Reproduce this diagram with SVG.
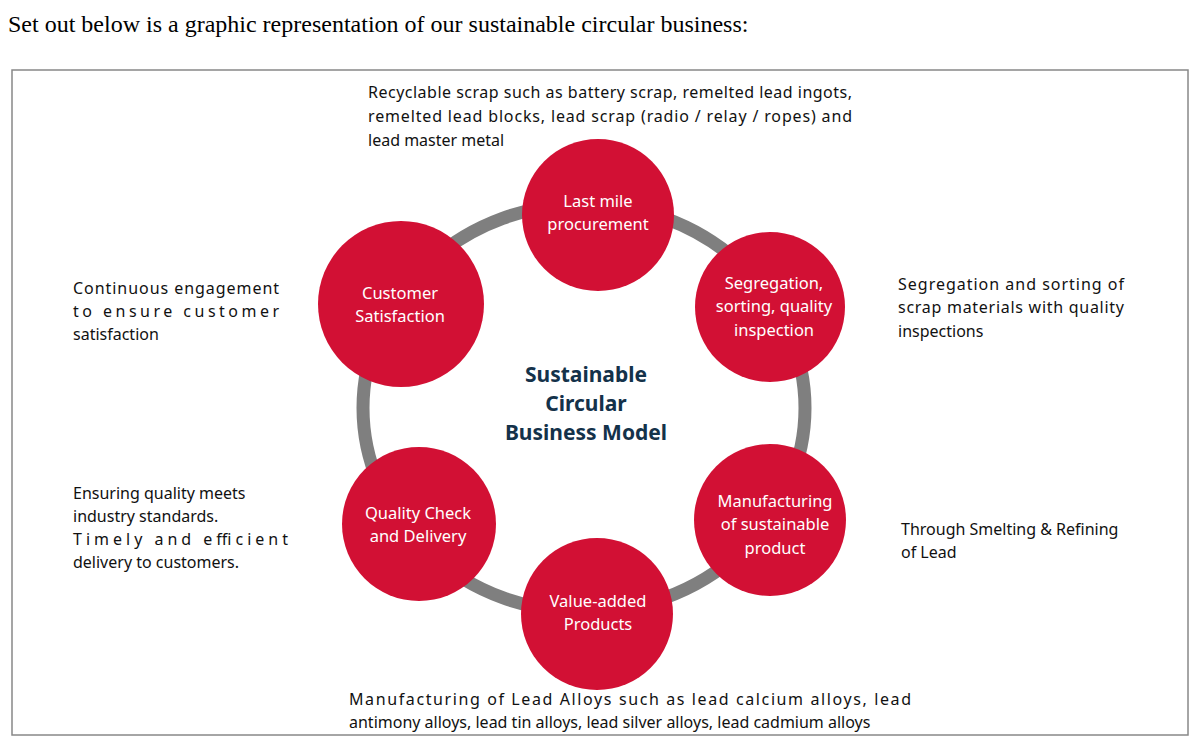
<svg xmlns="http://www.w3.org/2000/svg" width="1200" height="752" viewBox="0 0 1200 752">
<style>
.c{fill:#d21034}
.ct{font-family:"Noto Sans","Liberation Sans",sans-serif;font-size:16.5px;fill:#fff;text-anchor:middle}
.d{font-family:"Noto Sans","Liberation Sans",sans-serif;font-size:16px;fill:#111}
.h{font-family:"Noto Sans","Liberation Sans",sans-serif;font-size:21px;font-weight:bold;fill:#14324a;text-anchor:middle}
</style>
<rect width="1200" height="752" fill="#fff"/>
<text x="8" y="32" font-family="Liberation Serif,serif" font-size="24" fill="#000">Set out below is a graphic representation of our sustainable circular business:</text>
<rect x="12" y="70" width="1176" height="665" fill="none" stroke="#888" stroke-width="1.5"/>
<g id="connectors"><ellipse cx="584" cy="408" rx="221" ry="204" fill="none" stroke="#7f7f7f" stroke-width="13"/></g>
<g id="center"><text class="h" x="586" y="382">Sustainable</text><text class="h" x="586" y="411">Circular</text><text class="h" x="586" y="440">Business Model</text></g>
<g id="n1"><circle class="c" cx="598" cy="215" r="76"/><text class="ct" x="598" y="207">Last mile</text><text class="ct" x="598" y="230">procurement</text></g>
<g id="n2"><circle class="c" cx="770" cy="307" r="75"/><text class="ct" x="774" y="289">Segregation,</text><text class="ct" x="774" y="312">sorting, quality</text><text class="ct" x="774" y="336">inspection</text></g>
<g id="n3"><circle class="c" cx="770" cy="520" r="76"/><text class="ct" x="775" y="507">Manufacturing</text><text class="ct" x="775" y="530">of sustainable</text><text class="ct" x="775" y="554">product</text></g>
<g id="n4"><circle class="c" cx="597" cy="614" r="76"/><text class="ct" x="598" y="607">Value-added</text><text class="ct" x="598" y="630">Products</text></g>
<g id="n5"><circle class="c" cx="419" cy="524" r="77"/><text class="ct" x="418" y="519">Quality Check</text><text class="ct" x="418" y="542">and Delivery</text></g>
<g id="n6"><circle class="c" cx="401" cy="304" r="83"/><text class="ct" x="400" y="299">Customer</text><text class="ct" x="400" y="322">Satisfaction</text></g>
<g id="labels">
<text class="d" x="368" y="98" textLength="484" lengthAdjust="spacing">Recyclable scrap such as battery scrap, remelted lead ingots,</text>
<text class="d" x="368" y="122" textLength="484" lengthAdjust="spacing">remelted lead blocks, lead scrap (radio / relay / ropes) and</text>
<text class="d" x="368" y="146">lead master metal</text>
<text class="d" x="898" y="290" textLength="226" lengthAdjust="spacing">Segregation and sorting of</text>
<text class="d" x="898" y="313" textLength="226" lengthAdjust="spacing">scrap materials with quality</text>
<text class="d" x="898" y="337">inspections</text>
<text class="d" x="73" y="294" textLength="206" lengthAdjust="spacing">Continuous engagement</text>
<text class="d" x="73" y="317" textLength="206" lengthAdjust="spacing">to ensure customer</text>
<text class="d" x="73" y="340">satisfaction</text>
<text class="d" x="73" y="499">Ensuring quality meets</text>
<text class="d" x="73" y="522">industry standards.</text>
<text class="d" x="73" y="545" textLength="215" lengthAdjust="spacing">Timely and efficient</text>
<text class="d" x="73" y="568">delivery to customers.</text>
<text class="d" x="901" y="535">Through Smelting &amp; Refining</text>
<text class="d" x="901" y="558">of Lead</text>
<text class="d" x="349" y="705" textLength="562" lengthAdjust="spacing">Manufacturing of Lead Alloys such as lead calcium alloys, lead</text>
<text class="d" x="349" y="728">antimony alloys, lead tin alloys, lead silver alloys, lead cadmium alloys</text>
</g>
</svg>
